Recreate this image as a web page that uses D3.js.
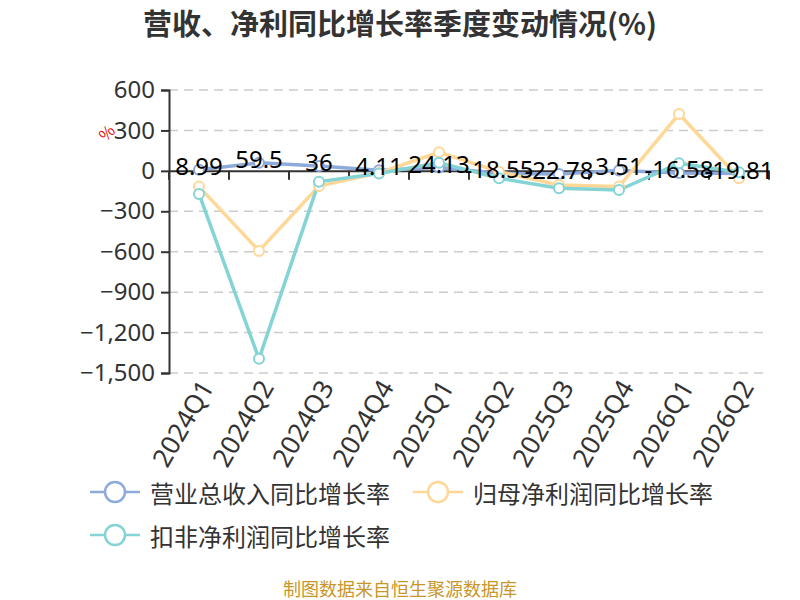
<!DOCTYPE html>
<html><head><meta charset="utf-8">
<script src="https://cdn.jsdelivr.net/npm/d3@7/dist/d3.min.js"></script>
<style>body{margin:0;background:#fff;}svg{display:block;font-family:"Noto Sans CJK SC","Noto Sans",sans-serif;}</style>
</head><body><svg id="c" width="800" height="600"></svg>
<script>
const categories = ["2024Q1","2024Q2","2024Q3","2024Q4","2025Q1","2025Q2","2025Q3","2025Q4","2026Q1","2026Q2"];
const revenue = [8.99, 59.5, 36, 4.11, 24.13, -18.55, -22.78, 3.51, -16.58, -19.81];
const netProfit = [-117, -594, -112, -15, 138, -6, -105, -117, 422, -55];
const deductedProfit = [-171, -1395, -80, -20, 61, -55, -129, -142, 56, -10];
const yTicks = [600, 300, 0, -300, -600, -900, -1200, -1500];
const seriesNames = ["营业总收入同比增长率","归母净利润同比增长率","扣非净利润同比增长率"];
const colors = ["#8eaadb","#ffd797","#84d4d6"];

const svg = d3.select("#c");
const x = d3.scaleBand().domain(categories).range([169, 769]);
const y = d3.scaleLinear().domain([-1500, 600]).range([373, 90]);
const cx = d => x(d) + x.bandwidth()/2;

svg.append("text").attr("x", 400).attr("y", 35).attr("text-anchor","middle")
  .attr("font-size", 29).attr("font-weight","bold").attr("fill","#333")
  .text("营收、净利同比增长率季度变动情况(%)");

// grid
svg.append("g").selectAll("line").data(yTicks.filter(t=>t!==0)).join("line")
  .attr("x1",169).attr("x2",769).attr("y1",d=>y(d)).attr("y2",d=>y(d))
  .attr("stroke","#ccc").attr("stroke-width",1.5).attr("stroke-dasharray","9,6");

// y axis
const ya = svg.append("g").attr("transform","translate(169,0)")
  .call(d3.axisLeft(y).tickValues(yTicks).tickSize(8).tickPadding(6).tickFormat(d3.format(",")));
ya.select(".domain").attr("stroke","#333").attr("stroke-width",2);
ya.selectAll(".tick line").attr("stroke","#333").attr("stroke-width",2);
ya.selectAll(".tick text").attr("font-size",24).attr("fill","#333").attr("font-family","'Noto Sans',sans-serif");

svg.append("text").attr("transform",`translate(106,132) rotate(-45)`).attr("text-anchor","middle")
  .attr("dominant-baseline","central").attr("font-size",16).attr("fill","#e00").text("%");

// x axis at zero
const xa = svg.append("g").attr("transform",`translate(0,${y(0)})`)
  .call(d3.axisBottom(x).tickSize(0).tickFormat(""));
xa.select(".domain").attr("stroke","#333").attr("stroke-width",2);
svg.append("g").selectAll("line").data(d3.range(categories.length+1)).join("line")
  .attr("x1",i=>169+i*x.bandwidth()).attr("x2",i=>169+i*x.bandwidth())
  .attr("y1",y(0)).attr("y2",y(0)+9).attr("stroke","#333").attr("stroke-width",2);

// x labels at bottom
svg.append("g").selectAll("text").data(categories).join("text")
  .attr("transform",d=>`translate(${cx(d)+7},${382}) rotate(-60)`)
  .attr("text-anchor","end").attr("dominant-baseline","central")
  .attr("font-size",26).attr("fill","#333").attr("font-family","'Noto Sans',sans-serif").text(d=>d);

const line = d3.line().x((d,i)=>cx(categories[i])).y(d=>y(d));
const all = [revenue, netProfit, deductedProfit];
all.forEach((s,k)=>{
  svg.append("path").datum(s).attr("d",line).attr("fill","none")
    .attr("stroke",colors[k]).attr("stroke-width",3.5).attr("stroke-linejoin","round");
});
all.forEach((s,k)=>{
  svg.append("g").selectAll("circle").data(s).join("circle")
    .attr("cx",(d,i)=>cx(categories[i])).attr("cy",d=>y(d)).attr("r",5)
    .attr("fill","#fff").attr("stroke",colors[k]).attr("stroke-width",2);
});

// labels for revenue
svg.append("g").selectAll("text").data(revenue).join("text")
  .attr("x",(d,i)=>cx(categories[i])).attr("y",d=>y(d)+5)
  .attr("text-anchor","middle").attr("font-size",24).attr("fill","#000")
  .attr("font-family","'Noto Sans',sans-serif").text(d=>d);

// legend
const legendPos = [[90,492],[413,492],[90,535]];
seriesNames.forEach((n,k)=>{
  const [lx,ly] = legendPos[k];
  const g = svg.append("g");
  g.append("line").attr("x1",lx).attr("x2",lx+50).attr("y1",ly).attr("y2",ly).attr("stroke",colors[k]).attr("stroke-width",2.5);
  g.append("circle").attr("cx",lx+25).attr("cy",ly).attr("r",10).attr("fill","#fff").attr("stroke",colors[k]).attr("stroke-width",2.5);
  g.append("text").attr("x",lx+60).attr("y",ly).attr("dominant-baseline","central")
    .attr("font-size",24).attr("fill","#333").text(n);
});

svg.append("text").attr("x",400).attr("y",596).attr("text-anchor","middle")
  .attr("font-size",18).attr("fill","#c8962a").text("制图数据来自恒生聚源数据库");
</script></body></html>
